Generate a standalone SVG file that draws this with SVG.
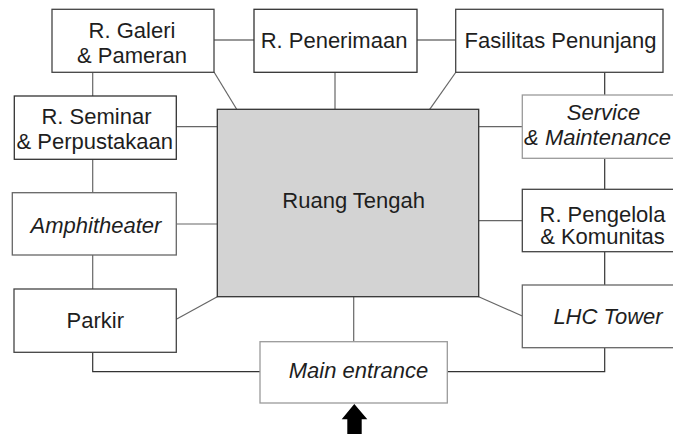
<svg xmlns="http://www.w3.org/2000/svg" width="673" height="434" viewBox="0 0 673 434">
<style>
.box{fill:#ffffff;stroke:#444;stroke-width:1.3}
.lite{stroke:#9a9a9a}
.mid{stroke:#666}
.center{fill:#d3d3d3;stroke:#333;stroke-width:1.3}
.t{font-family:"Liberation Sans",Arial,sans-serif;font-size:22px;fill:#1e1e1e;text-anchor:middle}
.i{font-style:italic}
.c{fill:none;stroke:#666;stroke-width:1.2}
.d{stroke:#333}
</style>
<rect width="673" height="434" fill="#ffffff"/>
<g id="connectors">
<line class="c d" x1="214" y1="40" x2="254" y2="40"/>
<line class="c d" x1="417" y1="40" x2="456" y2="40"/>
<line class="c" x1="92.7" y1="72" x2="92.7" y2="96"/>
<line class="c" x1="92.7" y1="159" x2="92.7" y2="193"/>
<line class="c" x1="92.7" y1="255" x2="92.7" y2="289"/>
<polyline class="c d" points="92.7,352 92.7,371.7 260,371.7"/>
<line class="c" x1="214" y1="72" x2="236.7" y2="109.3"/>
<line class="c" x1="335" y1="72" x2="335" y2="109.3"/>
<line class="c" x1="456" y1="72" x2="429.7" y2="109.3"/>
<line class="c" x1="176.3" y1="126.7" x2="217.3" y2="126.7"/>
<line class="c" x1="176.3" y1="224" x2="217.3" y2="224"/>
<line class="c" x1="176.3" y1="319.3" x2="217.3" y2="296.7"/>
<line class="c" x1="478.7" y1="126.7" x2="522.3" y2="126.7"/>
<line class="c" x1="478.7" y1="220.7" x2="522.3" y2="220.7"/>
<line class="c" x1="478.7" y1="296.7" x2="522.3" y2="316"/>
<line class="c" x1="353.7" y1="296.7" x2="353.7" y2="341.7"/>
<line class="c d" x1="604.7" y1="72" x2="604.7" y2="95"/>
<line class="c d" x1="604.7" y1="158.3" x2="604.7" y2="189.3"/>
<line class="c d" x1="604.7" y1="251.7" x2="604.7" y2="285"/>
<polyline class="c d" points="447.3,371.7 604.7,371.7 604.7,347.7"/>
</g>
<g id="ruang-tengah">
<rect class="center" x="217.3" y="109.3" width="261.4" height="187.4"/>
<text class="t" x="353.7" y="208.3">Ruang Tengah</text>
</g>
<g id="galeri">
<rect class="box" x="52" y="9.3" width="162" height="63"/>
<text class="t" x="132" y="37.7">R. Galeri</text>
<text class="t" x="132" y="63.3">&amp; Pameran</text>
</g>
<g id="penerimaan">
<rect class="box d" x="254" y="9.3" width="163" height="63"/>
<text class="t" x="334" y="48.3">R. Penerimaan</text>
</g>
<g id="fasilitas">
<rect class="box" x="455.7" y="9.3" width="207.3" height="63"/>
<text class="t" x="560.5" y="48.3">Fasilitas Penunjang</text>
</g>
<g id="seminar">
<rect class="box d" x="14.3" y="96" width="162" height="63.3"/>
<text class="t" x="96.5" y="124">R. Seminar</text>
<text class="t" x="94.8" y="148.7">&amp; Perpustakaan</text>
</g>
<g id="amphitheater">
<rect class="box mid" x="12.3" y="192.7" width="164" height="62.3"/>
<text class="t i" x="96" y="233.3">Amphitheater</text>
</g>
<g id="parkir">
<rect class="box" x="14" y="289" width="162.3" height="63.3"/>
<text class="t" x="95.3" y="328.3">Parkir</text>
</g>
<g id="main-entrance">
<rect class="box lite" x="260" y="341.7" width="187.3" height="61.3"/>
<text class="t i" x="358.5" y="378.3">Main entrance</text>
</g>
<g id="service">
<rect class="box lite" x="522.3" y="95" width="162" height="63.3"/>
<text class="t i" x="603.5" y="120">Service</text>
<text class="t i" x="597.5" y="145">&amp; Maintenance</text>
</g>
<g id="pengelola">
<rect class="box" x="522.3" y="189.3" width="162" height="62.4"/>
<text class="t" x="602.5" y="221.7">R. Pengelola</text>
<text class="t" x="602.5" y="244.3">&amp; Komunitas</text>
</g>
<g id="lhc-tower">
<rect class="box mid" x="522.3" y="285" width="162" height="62.7"/>
<text class="t i" x="608" y="324">LHC Tower</text>
</g>
<g id="entrance-arrow">
<polygon points="354.3,404 367.3,419.3 361.7,419.3 361.7,434 347.3,434 347.3,419.3 341.7,419.3" fill="#000"/>
</g>
</svg>
